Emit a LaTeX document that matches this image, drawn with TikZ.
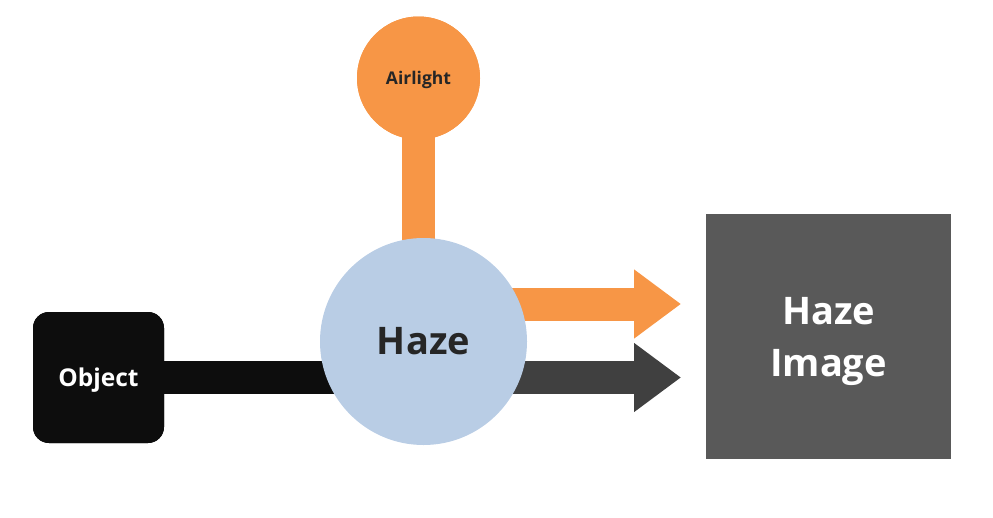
\documentclass[tikz,border=0pt]{standalone}
\usepackage{fontspec}
\setmainfont{Open Sans}
\usetikzlibrary{arrows.meta}
\definecolor{orng}{HTML}{F79646}
\definecolor{lblue}{HTML}{B9CDE5}
\definecolor{blk}{HTML}{0D0D0D}
\definecolor{dgray}{HTML}{404040}
\definecolor{mgray}{HTML}{595959}
\definecolor{txt}{HTML}{262626}
\newcommand{\lowerby}[2]{\raisebox{-#1}[\height][\depth]{#2}}
\tikzset{
  disc/.style={circle, inner sep=0pt, draw=none},
  airstyle/.style={disc, fill=orng, minimum size=123pt, font=\bfseries\fontsize{17.5}{21}\selectfont, text=txt},
  objstyle/.style={fill=blk, rounded corners=16pt, minimum size=131pt, inner sep=0pt, font=\bfseries\fontsize{24.5}{29}\selectfont, text=white},
  hazestyle/.style={disc, fill=lblue, minimum size=207pt, font=\bfseries\fontsize{38}{46}\selectfont, text=txt},
  imgstyle/.style={fill=mgray, minimum size=245pt, inner sep=0pt, align=center, font=\bfseries\fontsize{38}{52}\selectfont, text=white},
  bar/.style={line width=33pt},
  fatarrow/.style={line width=33pt, -{Triangle[length=47pt,width=66pt]}},
}
\begin{document}
\begin{tikzpicture}[x=1pt,y=-1pt]
\useasboundingbox (0,0) rectangle (993,517);
% nodes
\node[airstyle] (air) at (418.5,78) {\lowerby{2pt}{Airlight}};
\node[objstyle] (obj) at (98.5,377.5) {\lowerby{3pt}{Object}};
\node[imgstyle] (img) at (828.5,336.5) {\lowerby{5pt}{\parbox{200pt}{\centering Haze\\Image}}};
\node[disc, minimum size=207pt] (haze) at (423.5,341.5) {};
\coordinate (t1) at (681,304);
\coordinate (t2) at (681,377.5);
% connectors
\draw[bar, orng] (air.center) -- (air.center |- haze.center);
\node[airstyle] at (air) {\lowerby{2pt}{Airlight}};
\draw[bar, blk] (obj.center) -- (obj.center -| haze.center);
\node[objstyle] at (obj) {\lowerby{3pt}{Object}};
\draw[fatarrow, orng] (t1 -| haze.center) -- (t1);
\draw[fatarrow, dgray] (t2 -| haze.center) -- (t2);
\node[hazestyle] at (haze) {Haze};
\end{tikzpicture}
\end{document}
